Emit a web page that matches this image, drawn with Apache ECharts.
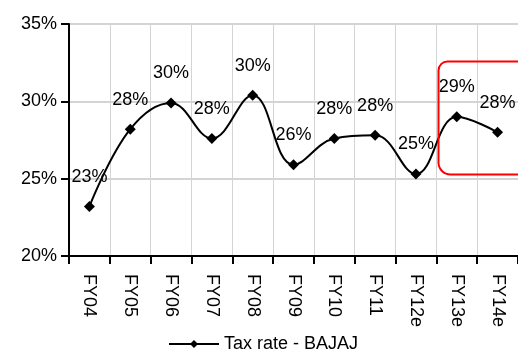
<!DOCTYPE html>
<html>
<head>
<meta charset="utf-8">
<script src="https://cdn.jsdelivr.net/npm/echarts@6/dist/echarts.min.js"></script>
<style>
  html, body { margin: 0; padding: 0; background: #fff; }
  #chart { width: 518px; height: 356px; }
</style>
</head>
<body>
<div id="chart"></div>
<script>
// Fiscal years on the category axis
const years = ['FY04', 'FY05', 'FY06', 'FY07', 'FY08', 'FY09', 'FY10', 'FY11', 'FY12e', 'FY13e', 'FY14e'];
// Effective tax rate, percent
const taxRate = [23.2, 28.2, 29.9, 27.6, 30.4, 25.9, 27.6, 27.8, 25.3, 29.0, 28.0];
const seriesName = 'Tax rate - BAJAJ';

const font = 'Liberation Sans, Arial, sans-serif';
const fs = 18;
const chart = echarts.init(document.getElementById('chart'), null, { renderer: 'canvas' });

chart.setOption({
  animation: false,
  backgroundColor: '#ffffff',
  textStyle: { fontFamily: font },
  grid: { left: 69, top: 24, width: 458, height: 232, containLabel: false },
  legend: {
    bottom: -2,
    left: 163,
    itemWidth: 50,
    itemHeight: 10,
    itemGap: 6,
    textStyle: { fontFamily: font, fontSize: fs, color: '#000' },
    data: [{ name: seriesName }]
  },
  xAxis: {
    type: 'category',
    data: years,
    boundaryGap: true,
    axisLine: { lineStyle: { color: '#000', width: 2 } },
    axisTick: { show: true, length: 8, lineStyle: { color: '#000', width: 2 } },
    axisLabel: { rotate: -90, margin: 18, fontSize: fs, color: '#000', fontFamily: font },
    splitLine: { show: true, lineStyle: { color: '#d4d4d4', width: 1 } }
  },
  yAxis: {
    type: 'value',
    min: 20,
    max: 35,
    interval: 5,
    axisLine: { show: true, lineStyle: { color: '#000', width: 2 } },
    axisTick: { show: true, length: 8, lineStyle: { color: '#000', width: 2 } },
    axisLabel: { formatter: '{value}%', margin: 12, fontSize: fs, color: '#000', fontFamily: font },
    splitLine: { show: true, lineStyle: { color: '#d4d4d4', width: 2 } }
  },
  series: [{
    name: seriesName,
    type: 'line',
    data: taxRate,
    smooth: 0.4,
    symbol: 'diamond',
    symbolSize: 11,
    itemStyle: { color: '#000' },
    lineStyle: { color: '#000', width: 2 },
    label: {
      show: true,
      position: 'top',
      distance: 15,
      fontSize: fs,
      color: '#000',
      fontFamily: font,
      formatter: p => Math.round(p.value) + '%'
    }
  }],
  graphic: [{
    // highlight box around the estimate years
    type: 'rect',
    left: 436,
    top: 59,
    z: 100,
    shape: { width: 100, height: 113, r: [9, 0, 0, 12] },
    style: { fill: 'none', stroke: '#ff0000', lineWidth: 2 }
  }]
});
</script>
</body>
</html>
